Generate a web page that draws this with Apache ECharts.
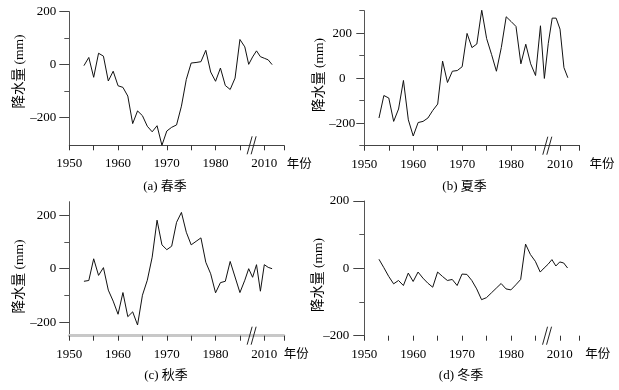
<!DOCTYPE html>
<html><head><meta charset="utf-8">
<script src="https://cdn.jsdelivr.net/npm/echarts@6/dist/echarts.min.js"></script>
<style>html,body{margin:0;padding:0;background:#fff}#c{width:619px;height:390px}</style>
</head><body><div id="c"></div>
<script>
// ---- data ----
const yearsEarly = [1953,1954,1955,1956,1957,1958,1959,1960,1961,1962,1963,1964,1965,1966,1967,1968,1969,1970,1971,1972,1973,1974,1975,1976,1977,1978,1979,1980,1981,1982,1983,1984,1985];
const yearsLate = [2005,2006,2007,2008,2009,2010,2011,2012];
const springVals = [-4,27,-48,43,32,-62,-25,-80,-86,-119,-223,-175,-193,-233,-254,-231,-305,-251,-237,-228,-157,-56,6,8,11,54,-28,-63,-13,-79,-94,-51,95,
                    67,1,29,52,30,24,18,0];
const summerVals = [-177,-77,-88,-192,-137,-10,-185,-257,-197,-192,-177,-143,-115,76,-19,31,34,51,199,136,152,303,176,106,31,136,273,252,230,64,151,64,12,
                    233,-1,155,267,267,218,47,2];
const autumnVals = [-47,-44,37,-25,4,-80,-121,-170,-89,-179,-161,-210,-99,-43,43,181,89,71,84,173,210,136,89,102,115,24,-19,-90,-52,-47,27,-31,-89,
                    -43,0,-32,15,-84,15,5,0];
const winterVals = [27,2,-24,-46,-36,-51,-14,-39,-11,-29,-44,-56,-11,-24,-36,-33,-51,-17,-18,-36,-61,-93,-87,-73,-59,-45,-61,-64,-49,-33,72,41,21,
                    -11,1,12,26,7,19,16,1];
const panelTitles = ['(a) 春季','(b) 夏季','(c) 秋季','(d) 冬季'];
const xTickYears = [1950,1955,1960,1965,1970,1975,1980,1985,2010,2015];
const xLabelYears = [1950,1960,1970,1980,2010];
const yMajorTicks = [-200,0,200];
const yMinorTicks = [[-100,100],[-300,-100,100,300],[-100,100],[-100,100]];
const yRanges = [[-305,200],[-300,300],[-250,250],[-200,200]];
const xName = '年份';
const yName = '降水量 (mm)';

// broken time axis: 1950–1985 linear, then 2005–2015 compressed after the break
const BREAK_END = 1985;
function toPos(y){ return y <= BREAK_END ? y : 1990 + (y - 2010) * 0.8; }
function toYear(p){ return p <= BREAK_END + 0.5 ? Math.round(p) : Math.round(2010 + (p - 1990) / 0.8); }
const BREAK_POS = 1987.4;

const years = yearsEarly.concat(yearsLate);
const seriesVals = [springVals, summerVals, autumnVals, winterVals];

const FONT = "'Liberation Serif', 'Noto Sans CJK SC', serif";
const grids = [
  {left:69.3, top:11.7, width:214.5, height:133.6},
  {left:364.3, top:10.7, width:215.3, height:135},
  {left:69.3, top:201.7, width:214.5, height:134},
  {left:364.3, top:201, width:215, height:134.7}
];
const nameGaps = [3,10,0,6];
const yLabelAlign = ['right','center','right','right'];
const yLabelMargin = [13,22,13,15];
const yMajorLen = [10,8,10,11];
const titlePos = [[165,187],[464.5,187],[166,376],[461,376]];
const yNamePos = [[19,71.5],[319,75],[19,276.5],[318.5,275]];

const xAxes = [], yAxes = [], series = [], graphics = [];
for (let i = 0; i < 4; i++) {
  const xLine = i === 2 ? {show:true, onZero:false, lineStyle:{color:'#c8c8c8', width:3}}
              : i === 3 ? {show:false, onZero:false}
              : {show:true, onZero:false, lineStyle:{color:'#444', width:1}};
  xAxes.push({
    type:'value', gridIndex:i, min:1950, max:toPos(2015), position:'bottom',
    axisLine:xLine,
    splitLine:{show:false},
    axisTick:{show:true, length:5, customValues:xTickYears.map(toPos), lineStyle:{color:'#333'}},
    axisLabel:{show:true, customValues:xLabelYears.map(toPos), margin:12,
      formatter:v => String(toYear(v)), fontFamily:FONT, fontSize:13, color:'#000'},
    name:xName, nameLocation:'end', nameGap:nameGaps[i],
    nameTextStyle:{fontFamily:FONT, fontSize:12.5, color:'#000', verticalAlign:'top', padding:[13,0,0,0]}
  });
  const [ymin, ymax] = yRanges[i];
  yAxes.push({
    type:'value', gridIndex:i, min:ymin, max:ymax, position:'left',
    axisLine:{show:true, onZero:false, lineStyle:{color:'#555', width:1}},
    splitLine:{show:false},
    axisTick:{show:true, length:yMajorLen[i], customValues:yMajorTicks, lineStyle:{color:'#444'}},
    axisLabel:{show:true, customValues:yMajorTicks, margin:yLabelMargin[i], align:yLabelAlign[i],
      formatter:v => v < 0 ? '\u2013' + Math.abs(v) : String(v), fontFamily:FONT, fontSize:13, color:'#000'}
  });
  yAxes.push({
    type:'value', gridIndex:i, min:ymin, max:ymax, position:'left', offset:0,
    axisLine:{show:false, onZero:false}, splitLine:{show:false}, axisLabel:{show:false},
    axisTick:{show:true, length:5, customValues:yMinorTicks[i], lineStyle:{color:'#555'}}
  });
  series.push({
    type:'line', xAxisIndex:i, yAxisIndex:2*i, showSymbol:false, symbol:'none',
    lineStyle:{color:'#111', width:1}, silent:true, animation:false,
    data: years.map((y, k) => [toPos(y), seriesVals[i][k]])
  });
  series.push({
    type:'custom', xAxisIndex:i, yAxisIndex:2*i, clip:false, silent:true, z:10, animation:false,
    data:[[BREAK_POS, ymin]],
    renderItem:(params, api) => {
      const p = api.coord([api.value(0), api.value(1)]);
      const mk = dx => ({type:'line', shape:{x1:p[0]+dx-2.5, y1:p[1]+9, x2:p[0]+dx+2.5, y2:p[1]-9},
        style:{stroke:'#222', lineWidth:1}});
      return {type:'group', children:[mk(-2), mk(2)]};
    }
  });
  graphics.push({type:'text', x:titlePos[i][0], y:titlePos[i][1],
    style:{text:panelTitles[i], align:'center', verticalAlign:'middle', font:'13px ' + FONT, fill:'#000'}});
  graphics.push({type:'text', x:yNamePos[i][0], y:yNamePos[i][1], rotation:Math.PI/2,
    style:{text:yName, align:'center', verticalAlign:'middle', font:'13.5px ' + FONT, fill:'#000'}});
}

const chart = echarts.init(document.getElementById('c'), null, {renderer:'canvas'});
chart.setOption({
  animation:false,
  backgroundColor:'#fff',
  grid:grids,
  xAxis:xAxes,
  yAxis:yAxes,
  series:series,
  graphic:graphics
});
</script></body></html>
